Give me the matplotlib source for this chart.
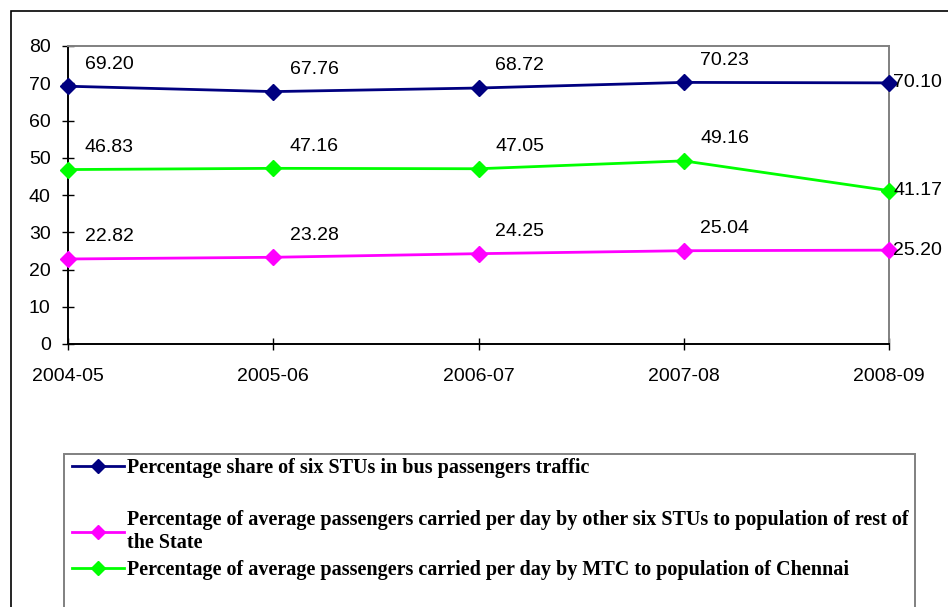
import matplotlib.pyplot as plt
from matplotlib.lines import Line2D
from matplotlib.patches import Rectangle

years = ["2004-05", "2005-06", "2006-07", "2007-08", "2008-09"]
share_six_stus = [69.20, 67.76, 68.72, 70.23, 70.10]
mtc_chennai = [46.83, 47.16, 47.05, 49.16, 41.17]
other_stus_state = [22.82, 23.28, 24.25, 25.04, 25.20]

labels = [
    "Percentage share of six STUs in bus passengers traffic",
    "Percentage of average passengers carried per day by other six STUs to population of rest of\nthe State",
    "Percentage of average passengers carried per day by MTC to population of Chennai",
]
colors = ["#000080", "#FF00FF", "#00FF00"]

plt.rcParams["font.family"] = ["Liberation Sans", "DejaVu Sans"]

W, H = 948, 607
fig = plt.figure(figsize=(W / 100, H / 100), dpi=100)
ax = fig.add_axes([68 / W, 1 - 344 / H, (889 - 68) / W, (344 - 46) / H])

# outer chart frame (runs off the right/bottom edge of the picture)
fig.patches.append(Rectangle((11 / W, -0.05), 1.2, 1 - 11 / H + 0.05, transform=fig.transFigure,
                             fill=False, edgecolor="black", linewidth=1.2))

x = list(range(len(years)))
series = [share_six_stus, other_stus_state, mtc_chennai]
handles = []
for vals, c in zip(series, colors):
    h, = ax.plot(x, vals, color=c, linewidth=2, marker="D", markersize=8, zorder=3, clip_on=False)
    handles.append(h)
    for i, v in enumerate(vals):
        if i == len(vals) - 1:
            ax.annotate(f"{v:.2f}", (i, v), xytext=(3, 0), textcoords="offset points",
                        ha="left", va="center", fontsize=14)
        else:
            ax.annotate(f"{v:.2f}", (i, v), xytext=(12, 16), textcoords="offset points",
                        ha="left", va="center", fontsize=14)

ax.set_xlim(0, 4)
ax.set_ylim(0, 80)
ax.set_yticks(range(0, 81, 10))
ax.set_xticks(x)
ax.set_xticklabels(years)
ax.tick_params(axis="both", direction="inout", length=9, width=1, labelsize=14)
ax.tick_params(axis="x", pad=13)
ax.tick_params(axis="y", pad=8)
for s in ["left", "bottom"]:
    ax.spines[s].set_color("black")
    ax.spines[s].set_linewidth(1.4)
for s in ["top", "right"]:
    ax.spines[s].set_color("#808080")
    ax.spines[s].set_linewidth(1.4)

# legend box
fig.patches.append(Rectangle((64 / W, -0.05), (915 - 64) / W, 1 - 454 / H + 0.05, transform=fig.transFigure,
                             fill=False, edgecolor="#808080", linewidth=1.4))
ys = [468, 532, 570]
for h, lab, yy in zip(handles, labels, ys):
    hd = Line2D([], [], color=h.get_color(), linewidth=2, marker="D", markersize=7.5)
    leg = fig.legend([hd], [lab], loc="center left", bbox_to_anchor=(72 / W, 1 - yy / H),
                     frameon=False, handlelength=2.6, handletextpad=0.15, borderpad=0, borderaxespad=0,
                     prop={"family": "Liberation Serif", "weight": "bold", "size": 14.5})
    for t in leg.get_texts():
        t.set_linespacing(1.2)

fig.savefig("out.png", dpi=100)
